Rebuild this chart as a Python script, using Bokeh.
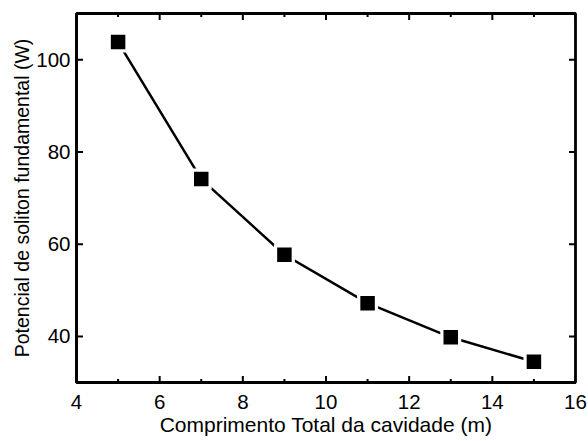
import math
from bokeh.plotting import figure
from bokeh.models import LinearAxis, FixedTicker, Range1d, ColumnDataSource
from bokeh.embed import file_html
from bokeh.resources import INLINE

# Cavity length (m) vs fundamental soliton power (W)
comprimento = [5, 7, 9, 11, 13, 15]
potencia = [103.8, 74.1, 57.7, 47.2, 39.8, 34.5]

x_ticks = [4, 6, 8, 10, 12, 14, 16]
x_minor = [5, 7, 9, 11, 13, 15]
y_ticks = [40, 60, 80, 100]

X_MIN, X_MAX = 4, 16
Y_MIN, Y_MAX = 30, 110

FONT = "Liberation Sans"

src = ColumnDataSource(data=dict(x=comprimento, y=potencia))

p = figure(width=588, height=441, output_backend="svg", toolbar_location=None,
           x_range=Range1d(X_MIN, X_MAX), y_range=Range1d(Y_MIN, Y_MAX),
           x_axis_location=None, y_axis_location=None,
           min_border_left=76, min_border_right=13,
           min_border_top=13, min_border_bottom=59)
p.grid.visible = False
p.outline_line_color = "black"
p.outline_line_width = 2.8
p.background_fill_color = "white"
p.border_fill_color = "white"


def make_axis(loc, ticks, label):
    ax = LinearAxis(axis_label=label)
    ax.ticker = FixedTicker(ticks=ticks)
    ax.axis_line_width = 2.8
    ax.major_tick_in = 0
    ax.major_tick_out = 0
    ax.minor_tick_in = 0
    ax.minor_tick_out = 0
    ax.major_label_text_font = FONT
    ax.major_label_text_font_size = "20.5px"
    ax.major_label_text_color = "black"
    ax.axis_label_text_font = FONT
    ax.axis_label_text_font_style = "normal"
    ax.axis_label_text_color = "black"
    p.add_layout(ax, loc)
    return ax


xb = make_axis("below", x_ticks, "Comprimento Total da cavidade (m)")
xb.major_label_standoff = 12
xb.axis_label_standoff = 1
xb.axis_label_text_font_size = "21px"

yl = make_axis("left", y_ticks, "Potencial de soliton fundamental (W)")
yl.major_label_standoff = 6
yl.axis_label_standoff = 0
yl.axis_label_text_font_size = "19.5px"

# inward tick marks on all four sides (half of each dash is clipped by the frame)
tick_style = dict(marker="dash", line_color="black", line_width=2)
p.scatter(x=x_ticks + x_ticks, y=[Y_MIN] * len(x_ticks) + [Y_MAX] * len(x_ticks),
          size=13, angle=math.pi / 2, **tick_style)
p.scatter(x=x_minor + x_minor, y=[Y_MIN] * len(x_minor) + [Y_MAX] * len(x_minor),
          size=7, angle=math.pi / 2, **tick_style)
p.scatter(x=[X_MIN] * len(y_ticks) + [X_MAX] * len(y_ticks), y=y_ticks + y_ticks,
          size=13, **tick_style)

p.line("x", "y", source=src, line_color="black", line_width=2.5)
# white halo leaves a small gap between the line and each marker
p.scatter("x", "y", source=src, marker="square", size=21,
          fill_color="white", line_color=None)
p.scatter("x", "y", source=src, marker="square", size=14.5,
          fill_color="black", line_color=None)

open("out.html", "w").write(file_html(p, INLINE))
